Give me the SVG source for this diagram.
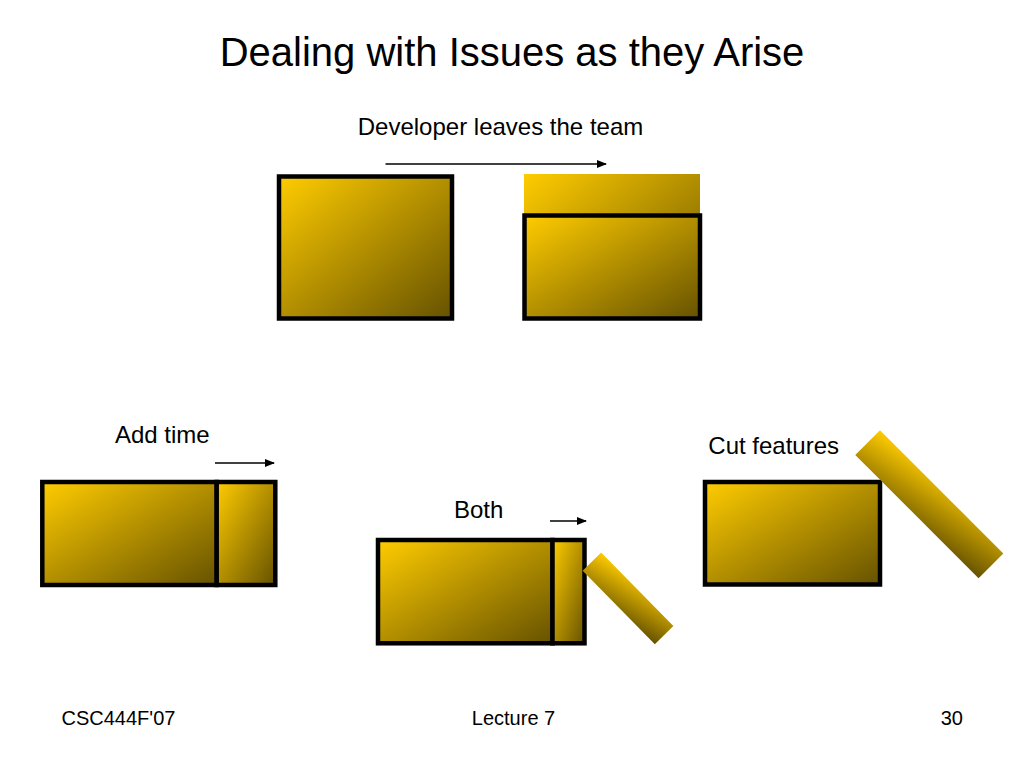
<svg xmlns="http://www.w3.org/2000/svg" width="1024" height="768" viewBox="0 0 1024 768">
<defs>
<linearGradient id="gold" x1="0" y1="0" x2="1" y2="1">
<stop offset="0" stop-color="#FFCC00"/>
<stop offset="1" stop-color="#665200"/>
</linearGradient>
<marker id="arr" markerWidth="10" markerHeight="8" refX="9" refY="4" orient="auto" markerUnits="userSpaceOnUse">
<path d="M0,0 L10,4 L0,8 Z" fill="#000"/>
</marker>
<style>
.t{font-family:"Liberation Sans",Arial,sans-serif;fill:#000}
.box{fill:url(#gold);stroke:#000;stroke-width:4.5}
.plain{fill:url(#gold);stroke:none}
.ar{stroke:#000;stroke-width:1.5;fill:none;marker-end:url(#arr)}
</style>
</defs>
<rect width="1024" height="768" fill="#fff"/>
<text class="t" x="512" y="66" font-size="40" text-anchor="middle">Dealing with Issues as they Arise</text>

<g id="before">
<rect class="box" x="279" y="176.5" width="173" height="142"/>
</g>
<g id="after">
<rect class="plain" x="524" y="174" width="176" height="144"/>
<rect class="box" x="524.5" y="215.5" width="175.5" height="103"/>
</g>
<text class="t" x="500.5" y="134.5" font-size="24" text-anchor="middle">Developer leaves the team</text>

<g id="add-time">
<rect class="box" x="42.3" y="482" width="174.4" height="103"/>
<rect class="box" x="216.7" y="482" width="58.6" height="103"/>
</g>
<text class="t" x="115" y="442.5" font-size="24">Add time</text>

<g id="both">
<rect class="box" x="378" y="540" width="174.5" height="103.3"/>
<rect class="box" x="552.5" y="540" width="32" height="103.3"/>
<rect class="plain" x="-51.5" y="-13" width="103" height="26" transform="translate(628,598.3) rotate(45.5)"/>
</g>
<text class="t" x="454" y="517.5" font-size="24">Both</text>

<g id="cut-features">
<rect class="box" x="705" y="482" width="175" height="102.5"/>
<rect class="plain" x="-87.2" y="-17.5" width="174.4" height="35" transform="translate(929.3,504.2) rotate(45)"/>
</g>
<text class="t" x="708.3" y="454.3" font-size="24">Cut features</text>

<g id="connectors">
<line class="ar" x1="385.5" y1="164" x2="606" y2="164"/>
<line class="ar" x1="215" y1="463" x2="274" y2="463"/>
<line class="ar" x1="550" y1="521" x2="586" y2="521"/>
</g>

<text class="t" x="61.5" y="725" font-size="20">CSC444F'07</text>
<text class="t" x="513.5" y="725" font-size="20" text-anchor="middle">Lecture 7</text>
<text class="t" x="963" y="725" font-size="20" text-anchor="end">30</text>
</svg>
